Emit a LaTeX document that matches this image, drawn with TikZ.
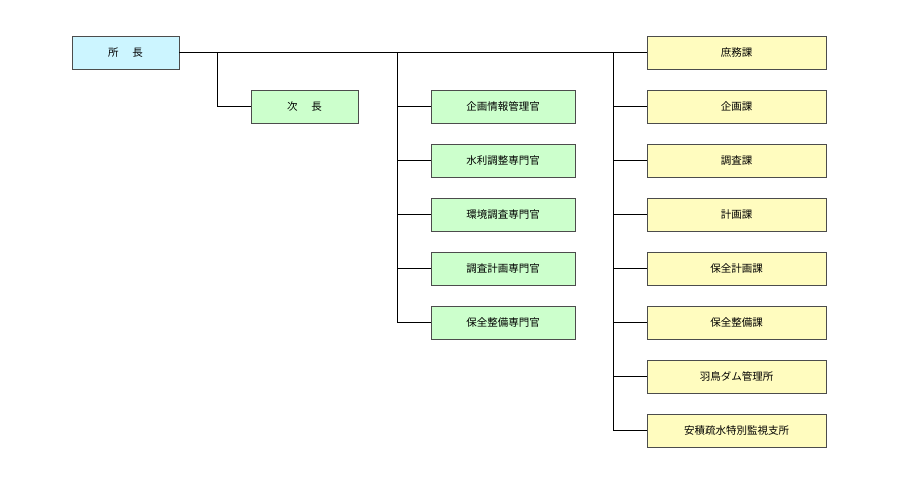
\documentclass[tikz,border=0pt]{standalone}
\usepackage{fontspec}
\newfontfamily\cjk{Noto Sans CJK JP}
\begin{document}
\begin{tikzpicture}[x=1pt,y=-1pt,
 box/.style={draw=black!70,line width=0.6pt,minimum height=33pt,inner sep=0pt,font=\cjk\fontsize{10.5}{12}\selectfont},
 blu/.style={box,fill=blue!20!cyan!20,minimum width=107pt},
 grn/.style={box,fill=green!20,minimum width=107pt},
 mid/.style={box,fill=green!20,minimum width=144pt},
 yel/.style={box,fill=yellow!25,minimum width=179pt},
 ln/.style={line width=0.8pt}]
\useasboundingbox (0,0) rectangle (899,485);
\node[blu] (a) at (125.5,52.5) {所\hspace{1.3em}長};
\node[grn] (b) at (304.5,106.5) {次\hspace{1.3em}長};
\foreach \t [count=\i] in {企画情報管理官,水利調整専門官,環境調査専門官,調査計画専門官,保全整備専門官}
  \node[mid] (m\i) at (503,52.5+54*\i) {\t};
\foreach \t [count=\i from 0] in {庶務課,企画課,調査課,計画課,保全計画課,保全整備課,羽鳥ダム管理所,安積疏水特別監視支所}
  \node[yel] (r\i) at (736.5,52.5+54*\i) {\t};
\coordinate (p) at (217,52.5);
\coordinate (q) at (397,52.5);
\coordinate (s) at (613,52.5);
\draw[ln] (a.east) -- (r0.west);
\draw[ln] (p) |- (b.west);
\draw[ln] (q) |- (m5.west);
\foreach \i in {1,...,4} \draw[ln] (q|-m\i.west) -- (m\i.west);
\draw[ln] (s) |- (r7.west);
\foreach \i in {1,...,6} \draw[ln] (s|-r\i.west) -- (r\i.west);
\end{tikzpicture}
\end{document}
